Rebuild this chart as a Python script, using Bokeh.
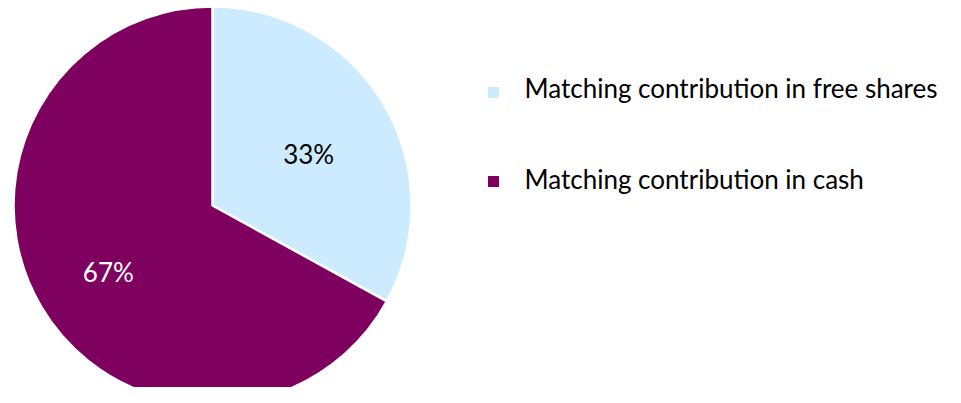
import math
from bokeh.plotting import figure
from bokeh.models import Range1d
from bokeh.core.properties import value
from bokeh.embed import file_html
from bokeh.resources import INLINE

categories = ["Matching contribution in free shares", "Matching contribution in cash"]
shares = [33, 67]
colors = ["#CCEBFF", "#7E005F"]
label_colors = ["#000000", "#FFFFFF"]
label_radius = [0.55, 0.62]

W, H = 945, 387
p = figure(width=W, height=H, output_backend="svg", toolbar_location=None,
           x_range=Range1d(0, W), y_range=Range1d(-H, 0),
           min_border=0, outline_line_color=None)
p.axis.visible = False
p.grid.visible = False
p.background_fill_color = "white"
p.border_fill_color = "white"

cx, cy, r = 212, -205, 199
FONT = value("Lato")

total = sum(shares)
start = math.pi / 2
starts, ends, lx, ly = [], [], [], []
for s, f in zip(shares, label_radius):
    sweep = 2 * math.pi * s / total
    end = start - sweep
    starts.append(end)
    ends.append(start)
    mid = (start + end) / 2
    lx.append(cx + f * r * math.cos(mid))
    ly.append(cy + f * r * math.sin(mid))
    start = end

p.wedge(x=cx, y=cy, radius=r, start_angle=starts, end_angle=ends,
        fill_color=colors, line_color="white", line_width=2.5)

p.text(x=lx, y=ly, text=[f"{s}%" for s in shares], text_color=label_colors,
       text_font=FONT, text_font_size="26px", text_align="center",
       text_baseline="middle", y_offset=4, x_offset=2)

leg_y = [-92, -181]
p.scatter(x=[493] * 2, y=leg_y, marker="square", size=11, fill_color=colors,
          line_color=None)
p.text(x=[524] * 2, y=[-87, -178], text=categories, text_font=FONT,
       text_font_size="26px", text_color="#000000", text_align="left",
       text_baseline="alphabetic")

open("out.html", "w").write(file_html(p, INLINE))
